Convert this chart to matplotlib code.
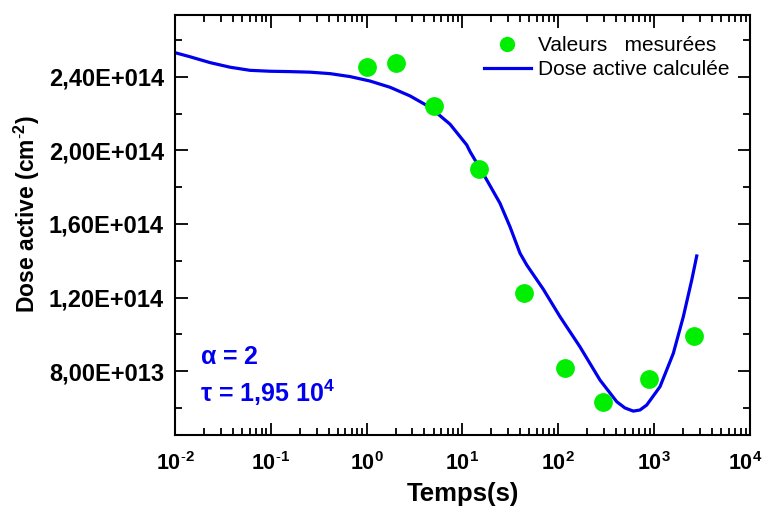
import numpy as np
import matplotlib
matplotlib.use("Agg")
from matplotlib import pyplot as plt
from matplotlib.ticker import FixedLocator, FuncFormatter, LogLocator, NullFormatter
from matplotlib.transforms import ScaledTranslation

plt.rcParams['font.family'] = ['Liberation Sans', 'DejaVu Sans']
plt.rcParams['mathtext.fontset'] = 'custom'
plt.rcParams['mathtext.rm'] = 'Liberation Sans'
plt.rcParams['mathtext.bf'] = 'Liberation Sans:bold'
plt.rcParams['mathtext.it'] = 'Liberation Sans:italic'

# measured values
t_meas = [1.0, 2.0, 5.0, 15.0, 44.0, 118.0, 290.0, 880.0, 2600.0]
dose_meas = [2.454e14, 2.476e14, 2.242e14, 1.897e14, 1.227e14, 8.16e13, 6.31e13, 7.56e13, 9.9e13]

# calculated curve
t_calc = [0.01, 0.0143, 0.0232, 0.0375, 0.0606, 0.098, 0.1585, 0.256, 0.415, 0.67, 1.08,
          1.75, 2.83, 4.58, 7.41, 11.07, 11.98, 17.9, 24.6, 31.3, 39.8, 46.8, 69.7, 104.0,
          168.0, 272.0, 407.0, 496.0, 606.0, 711.0, 836.0, 1151.0, 1584.0, 2015.0, 2466.0, 2780.0]
dose_calc = [2.532e14, 2.510e14, 2.478e14, 2.453e14, 2.436e14, 2.431e14, 2.429e14, 2.426e14,
             2.418e14, 2.402e14, 2.378e14, 2.344e14, 2.297e14, 2.235e14, 2.143e14, 2.030e14,
             1.994e14, 1.840e14, 1.713e14, 1.585e14, 1.441e14, 1.377e14, 1.245e14, 1.096e14,
             9.32e13, 7.51e13, 6.33e13, 5.99e13, 5.82e13, 5.88e13, 6.15e13, 7.15e13, 8.96e13,
             1.096e14, 1.295e14, 1.426e14]

y_ticks = [8.0e13, 1.2e14, 1.6e14, 2.0e14, 2.4e14]
y_tick_labels = ["8,00E+013", "1,20E+014", "1,60E+014", "2,00E+014", "2,40E+014"]
y_minor = [6e13, 1.0e14, 1.4e14, 1.8e14, 2.2e14, 2.6e14]

fig = plt.figure(figsize=(7.65, 5.07), dpi=100)
ax = fig.add_axes([175 / 765, 1 - 435 / 507, 575 / 765, 420 / 507])

ax.plot(t_meas, dose_meas, "o", color="#00ee00", markersize=12.5, label="Valeurs   mesurées", zorder=3)
ax.plot(t_calc, dose_calc, "-", color="#0000ee", linewidth=2.3, label="Dose active calculée", zorder=2,
        solid_joinstyle="round")

ax.set_xscale("log")
ax.set_xlim(1e-2, 1e4)
ax.set_ylim(4.52e13, 2.737e14)

ax.yaxis.set_major_locator(FixedLocator(y_ticks))
ax.yaxis.set_major_formatter(FuncFormatter(lambda v, p: y_tick_labels[y_ticks.index(v)] if v in y_ticks else ""))
ax.yaxis.set_minor_locator(FixedLocator(y_minor))

ax.xaxis.set_major_locator(FixedLocator([1e-2, 1e-1, 1e0, 1e1, 1e2, 1e3, 1e4]))
ax.xaxis.set_minor_locator(LogLocator(base=10, subs=np.arange(2, 10), numticks=20))
ax.xaxis.set_minor_formatter(NullFormatter())


def pow_label(v, p):
    e = int(round(np.log10(v)))
    if e < 0:
        return r"$\mathbf{10^{\text{-}%d}}$" % (-e)
    return r"$\mathbf{10^{%d}}$" % e


ax.xaxis.set_major_formatter(FuncFormatter(pow_label))

ax.tick_params(which="both", direction="in", top=True, right=True, width=1.3)
ax.tick_params(which="major", length=9)
ax.tick_params(which="minor", length=5)
ax.tick_params(axis="y", which="major", labelsize=17, pad=8)
ax.tick_params(axis="x", which="major", labelsize=15.5, pad=12)
for lab in ax.get_yticklabels():
    lab.set_fontweight("bold")
for sp in ax.spines.values():
    sp.set_linewidth(1.5)

# pull the last x label a little inside the figure
last = ax.xaxis.get_major_ticks()[-1].label1
last.set_transform(last.get_transform() + ScaledTranslation(-5 / 100, 0, fig.dpi_scale_trans))

ax.set_xlabel("Temps(s)", fontsize=18.5, fontweight="bold", labelpad=5)
ax.set_ylabel(r"Dose active (cm$^{\mathbf{\text{-}2}}$)", fontsize=16.5, fontweight="bold")
ax.yaxis.set_label_coords(-0.231, 0.526)

ax.text(0.043, 0.186, r"$\mathbf{\alpha}$ = 2", transform=ax.transAxes, color="#0000ee",
        fontsize=18, fontweight="bold", va="center", ha="left")
ax.text(0.043, 0.10, r"$\mathbf{\tau}$ = 1,95 10$^{\mathbf{4}}$", transform=ax.transAxes, color="#0000ee",
        fontsize=18, fontweight="bold", va="center", ha="left")

ax.legend(loc="upper right", frameon=False, fontsize=15, handlelength=2.3, handletextpad=0.3,
          borderaxespad=0.6, labelspacing=0.25, markerscale=0.8)

fig.savefig("out.png", dpi=100)
